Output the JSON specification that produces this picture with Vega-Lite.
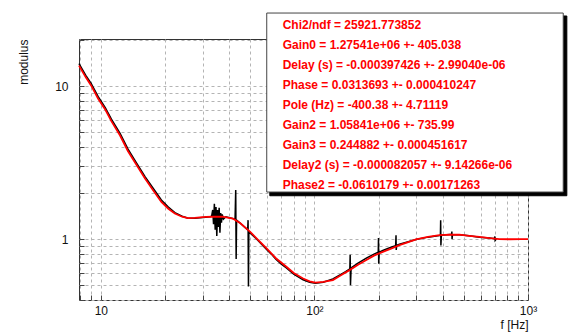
{
  "$schema": "https://vega.github.io/schema/vega-lite/v6.json",
  "autosize": {"type": "none"},
  "padding": {"left": 79, "top": 39, "right": 60, "bottom": 35},
  "width": 449,
  "height": 261,
  "background": "white",
  "config": {
    "view": {"stroke": "#333", "strokeWidth": 1},
    "font": "Liberation Sans",
    "axis": {
      "domain": false,
      "grid": true,
      "gridDash": [3, 3],
      "gridColor": "#b4b4b4",
      "gridWidth": 1,
      "tickColor": "#444",
      "tickSize": -5,
      "labelFont": "Liberation Sans",
      "labelFontSize": 12,
      "labelColor": "#111",
      "titleFont": "Liberation Sans",
      "titleFontSize": 12,
      "titleFontWeight": "normal",
      "titleColor": "#111"
    }
  },
  "datasets": {
    "fit": [
      {"f": 7.9, "modulus": 13.6}, {"f": 8.5, "modulus": 11.4}, {"f": 9.0, "modulus": 10.1},
      {"f": 9.7, "modulus": 8.3}, {"f": 10.5, "modulus": 7.0}, {"f": 11.2, "modulus": 5.9},
      {"f": 12.3, "modulus": 4.75}, {"f": 13.4, "modulus": 3.75}, {"f": 14.7, "modulus": 3.05},
      {"f": 16.1, "modulus": 2.49}, {"f": 17.6, "modulus": 2.08}, {"f": 19.2, "modulus": 1.75},
      {"f": 20.7, "modulus": 1.58}, {"f": 22.2, "modulus": 1.47}, {"f": 24, "modulus": 1.4},
      {"f": 25.6, "modulus": 1.37}, {"f": 27.5, "modulus": 1.375}, {"f": 29.1, "modulus": 1.385},
      {"f": 31, "modulus": 1.395}, {"f": 33.6, "modulus": 1.4}, {"f": 37, "modulus": 1.4},
      {"f": 41.6, "modulus": 1.36}, {"f": 45, "modulus": 1.27}, {"f": 49.9, "modulus": 1.12},
      {"f": 54, "modulus": 1.0}, {"f": 59.7, "modulus": 0.87}, {"f": 66, "modulus": 0.75},
      {"f": 73.9, "modulus": 0.66}, {"f": 80, "modulus": 0.6}, {"f": 88.5, "modulus": 0.553},
      {"f": 95, "modulus": 0.53}, {"f": 101, "modulus": 0.52}, {"f": 110, "modulus": 0.525},
      {"f": 122, "modulus": 0.54}, {"f": 133, "modulus": 0.58}, {"f": 146, "modulus": 0.627},
      {"f": 160, "modulus": 0.68}, {"f": 175, "modulus": 0.73}, {"f": 190, "modulus": 0.78},
      {"f": 209, "modulus": 0.826}, {"f": 230, "modulus": 0.87}, {"f": 250, "modulus": 0.914},
      {"f": 275, "modulus": 0.955}, {"f": 299, "modulus": 0.995}, {"f": 340, "modulus": 1.035},
      {"f": 385, "modulus": 1.06}, {"f": 430, "modulus": 1.07}, {"f": 477, "modulus": 1.068},
      {"f": 530, "modulus": 1.05}, {"f": 592, "modulus": 1.035}, {"f": 660, "modulus": 1.015},
      {"f": 734, "modulus": 1.0}, {"f": 820, "modulus": 0.998}, {"f": 927, "modulus": 1.0},
      {"f": 1000, "modulus": 1.0}
    ],
    "meas": [
      {"f": 7.9, "modulus": 14.0}, {"f": 8.5, "modulus": 11.75}, {"f": 9.0, "modulus": 10.4},
      {"f": 9.7, "modulus": 8.55}, {"f": 10.5, "modulus": 7.2}, {"f": 11.2, "modulus": 6.08},
      {"f": 12.3, "modulus": 4.9}, {"f": 13.4, "modulus": 3.87}, {"f": 14.7, "modulus": 3.14},
      {"f": 16.1, "modulus": 2.56}, {"f": 17.6, "modulus": 2.14}, {"f": 19.2, "modulus": 1.8},
      {"f": 20.7, "modulus": 1.62}, {"f": 22.2, "modulus": 1.49}, {"f": 24, "modulus": 1.41},
      {"f": 25.6, "modulus": 1.37}, {"f": 27.5, "modulus": 1.37}, {"f": 29.1, "modulus": 1.38},
      {"f": 31, "modulus": 1.39}, {"f": 32.5, "modulus": 1.4}, {"f": 33.0, "modulus": 1.41},
      {"f": 33.4, "modulus": 1.55}, {"f": 33.7, "modulus": 1.25}, {"f": 34.0, "modulus": 1.7},
      {"f": 34.3, "modulus": 1.15}, {"f": 34.6, "modulus": 1.62}, {"f": 34.9, "modulus": 1.05},
      {"f": 35.2, "modulus": 1.55}, {"f": 35.5, "modulus": 1.2}, {"f": 35.8, "modulus": 1.6},
      {"f": 36.1, "modulus": 1.1}, {"f": 36.4, "modulus": 1.48}, {"f": 36.7, "modulus": 1.28},
      {"f": 37.0, "modulus": 1.45}, {"f": 37.5, "modulus": 1.35}, {"f": 38.5, "modulus": 1.4},
      {"f": 40, "modulus": 1.38}, {"f": 42.5, "modulus": 1.35}, {"f": 42.8, "modulus": 2.09},
      {"f": 43.0, "modulus": 0.74}, {"f": 43.2, "modulus": 1.33}, {"f": 45, "modulus": 1.27},
      {"f": 47, "modulus": 1.2}, {"f": 48.7, "modulus": 1.15}, {"f": 48.9, "modulus": 1.33},
      {"f": 49.1, "modulus": 0.49}, {"f": 49.3, "modulus": 1.12}, {"f": 51, "modulus": 1.07},
      {"f": 54, "modulus": 0.99}, {"f": 57, "modulus": 0.915}, {"f": 59.7, "modulus": 0.855},
      {"f": 63, "modulus": 0.795}, {"f": 66, "modulus": 0.74}, {"f": 70, "modulus": 0.687},
      {"f": 73.9, "modulus": 0.648}, {"f": 80, "modulus": 0.59}, {"f": 88.5, "modulus": 0.542},
      {"f": 95, "modulus": 0.522}, {"f": 101, "modulus": 0.515}, {"f": 110, "modulus": 0.522},
      {"f": 122, "modulus": 0.55}, {"f": 133, "modulus": 0.587}, {"f": 140, "modulus": 0.612},
      {"f": 146.5, "modulus": 0.638}, {"f": 147, "modulus": 0.79}, {"f": 147.5, "modulus": 0.5},
      {"f": 148.5, "modulus": 0.648}, {"f": 160, "modulus": 0.697}, {"f": 175, "modulus": 0.752},
      {"f": 190, "modulus": 0.797}, {"f": 199, "modulus": 0.82}, {"f": 199.5, "modulus": 1.015},
      {"f": 200, "modulus": 0.69}, {"f": 201, "modulus": 0.822}, {"f": 209, "modulus": 0.842},
      {"f": 230, "modulus": 0.887}, {"f": 240, "modulus": 0.906}, {"f": 241, "modulus": 1.06},
      {"f": 241.5, "modulus": 0.85}, {"f": 243, "modulus": 0.912}, {"f": 250, "modulus": 0.925},
      {"f": 275, "modulus": 0.962}, {"f": 299, "modulus": 0.995}, {"f": 340, "modulus": 1.03},
      {"f": 385, "modulus": 1.055}, {"f": 389, "modulus": 1.06}, {"f": 390, "modulus": 1.33},
      {"f": 391, "modulus": 0.91}, {"f": 393, "modulus": 1.06}, {"f": 430, "modulus": 1.07},
      {"f": 439, "modulus": 1.07}, {"f": 440, "modulus": 1.12}, {"f": 441, "modulus": 1.0},
      {"f": 443, "modulus": 1.07}, {"f": 477, "modulus": 1.068}, {"f": 530, "modulus": 1.05},
      {"f": 592, "modulus": 1.03}, {"f": 660, "modulus": 1.015}, {"f": 695, "modulus": 1.005},
      {"f": 700, "modulus": 1.04}, {"f": 702, "modulus": 0.98}, {"f": 710, "modulus": 1.0}
    ],
    "statsbox": [
      {"part": "shadow", "f_lo": 61.8, "f_hi": 1520, "m_lo": 1.92, "m_hi": 28.7},
      {"part": "box", "f_lo": 59.8, "f_hi": 1462, "m_lo": 2.03, "m_hi": 30}
    ],
    "stats": [
      {"label": "Chi2/ndf = 25921.773852", "f": 71, "modulus": 25.05},
      {"label": "Gain0 =  1.27541e+06 +-  405.038", "f": 71, "modulus": 18.53},
      {"label": "Delay (s) =  -0.000397426 +-  2.99040e-06", "f": 71, "modulus": 13.72},
      {"label": "Phase =  0.0313693 +-  0.000410247", "f": 71, "modulus": 10.15},
      {"label": "Pole (Hz) =  -400.38 +-  4.71119", "f": 71, "modulus": 7.51},
      {"label": "Gain2 =  1.05841e+06 +-  735.99", "f": 71, "modulus": 5.56},
      {"label": "Gain3 =  0.244882 +-  0.000451617", "f": 71, "modulus": 4.115},
      {"label": "Delay2 (s) =  -0.000082057 +-  9.14266e-06", "f": 71, "modulus": 3.045},
      {"label": "Phase2 =  -0.0610179 +-  0.00171263", "f": 71, "modulus": 2.254}
    ]
  },
  "layer": [
    {
      "data": {"name": "meas"},
      "mark": {"type": "line", "color": "#000", "strokeWidth": 1.5},
      "encoding": {
        "x": {
          "field": "f", "type": "quantitative",
          "scale": {"type": "log", "domain": [7.9, 1000], "nice": false},
          "axis": {
            "title": "f [Hz]",
            "titleAnchor": "end",
            "titlePadding": 3,
            "labelPadding": 10,
            "values": [8, 9, 10, 20, 30, 40, 50, 60, 70, 80, 90, 100, 200, 300, 400, 500, 600, 700, 800, 900, 1000],
            "labelExpr": "datum.value == 10 ? '10' : datum.value == 100 ? '10²' : datum.value == 1000 ? '10³' : ''",
            "labelFlush": false,
            "labelOverlap": false
          }
        },
        "y": {
          "field": "modulus", "type": "quantitative",
          "scale": {"type": "log", "domain": [0.4, 20.3], "nice": false},
          "axis": {
            "title": "modulus",
            "titleAnchor": "end",
            "titlePadding": 24,
            "labelPadding": 16,
            "values": [0.4, 0.5, 0.6, 0.7, 0.8, 0.9, 1, 2, 3, 4, 5, 6, 7, 8, 9, 10, 20],
            "labelExpr": "datum.value == 1 ? '1' : datum.value == 10 ? '10' : ''",
            "labelFlush": false,
            "labelOverlap": false
          }
        }
      }
    },
    {
      "data": {"name": "fit"},
      "mark": {"type": "line", "color": "#ff0000", "strokeWidth": 1.8},
      "encoding": {
        "x": {"field": "f", "type": "quantitative"},
        "y": {"field": "modulus", "type": "quantitative"}
      }
    },
    {
      "data": {"name": "statsbox"},
      "mark": {"type": "rect", "clip": false, "strokeWidth": 1},
      "encoding": {
        "x": {"field": "f_lo", "type": "quantitative"},
        "x2": {"field": "f_hi"},
        "y": {"field": "m_hi", "type": "quantitative"},
        "y2": {"field": "m_lo"},
        "fill": {"field": "part", "type": "nominal", "scale": {"domain": ["shadow", "box"], "range": ["#000000", "#ffffff"]}, "legend": null},
        "stroke": {"field": "part", "type": "nominal", "scale": {"domain": ["shadow", "box"], "range": ["#000000", "#444444"]}, "legend": null},
        "order": {"field": "part", "sort": "descending"}
      }
    },
    {
      "data": {"name": "stats"},
      "mark": {
        "type": "text", "align": "left", "baseline": "middle", "color": "#ff0000",
        "font": "Liberation Sans", "fontSize": 12, "fontWeight": "bold", "clip": false
      },
      "encoding": {
        "x": {"field": "f", "type": "quantitative"},
        "y": {"field": "modulus", "type": "quantitative"},
        "text": {"field": "label"}
      }
    }
  ]
}
